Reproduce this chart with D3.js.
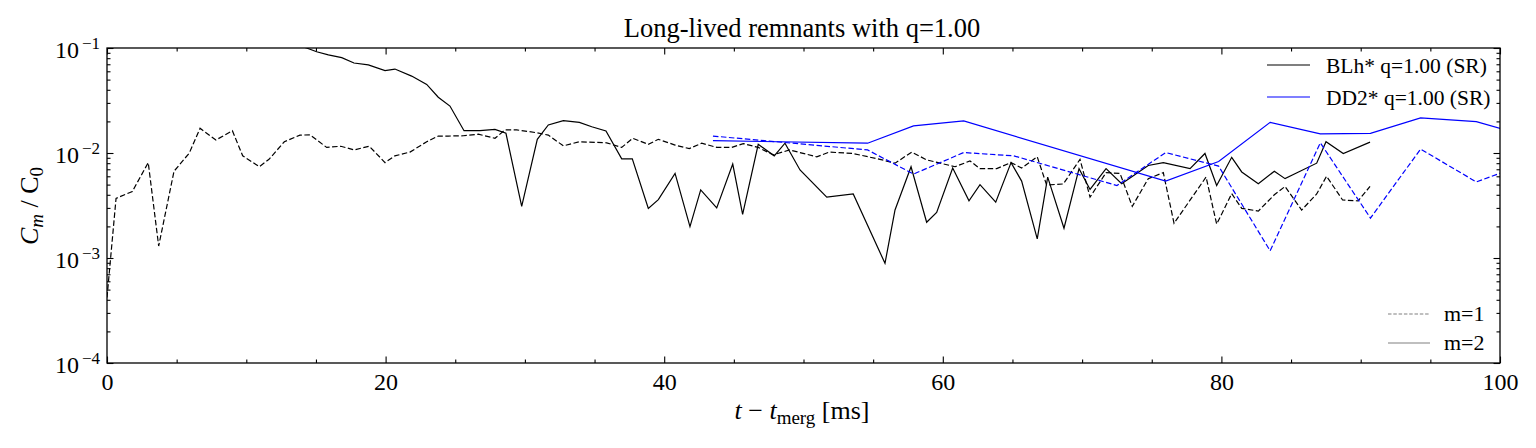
<!DOCTYPE html>
<html>
<head>
<meta charset="utf-8">
<script src="https://cdn.jsdelivr.net/npm/d3@7"></script>
<style>
  body { margin: 0; background: #fff; }
  svg { font-family: "Liberation Serif", "DejaVu Serif", serif; }
</style>
</head>
<body>
<svg id="chart" width="1536" height="448"></svg>
<script>
// BLh* q=1.00, m=1 (dashed black)
const blhM1Time = [0, 0.65, 1.82, 2.96, 3.71, 4.81, 5.91, 6.68, 7.82, 9.0, 9.74, 10.93, 11.63, 12.73, 13.85, 14.57,
    15.77, 16.78, 17.73, 18.83, 19.96, 20.67, 21.75, 22.95, 23.78, 24.5, 25.58, 26.65, 27.85, 28.57, 29.41, 30.85,
    31.68, 32.76, 33.91, 35.87, 36.95, 37.74, 38.86, 39.58, 40.78, 41.8, 42.69, 43.77, 44.84, 45.68, 46.75, 47.83,
    49.0, 50.95, 51.85, 53.53, 55.49, 56.57, 57.77, 58.84, 60.88, 61.95, 62.67, 63.87, 64.9, 65.66, 66.78, 67.45,
    68.65, 69.85, 70.57, 71.72, 72.72, 73.6, 74.75, 75.83, 76.6, 78.9, 79.66, 80.74, 81.46, 82.65, 83.8, 84.57,
    85.76, 86.84, 87.55, 88.7, 89.81, 90.67];
const blhM1 = [4.2e-4, 3.7e-3, 4.3e-3, 8.1e-3, 1.3e-3, 6.7e-3, 1.0e-2, 1.72e-2, 1.33e-2, 1.63e-2, 9.4e-3, 7.4e-3, 8.7e-3, 1.28e-2, 1.48e-2, 1.49e-2,
    1.13e-2, 1.16e-2, 1.07e-2, 1.16e-2, 8.1e-3, 9.4e-3, 1.02e-2, 1.28e-2, 1.45e-2, 1.45e-2, 1.46e-2, 1.51e-2, 1.38e-2, 1.66e-2, 1.66e-2, 1.56e-2,
    1.48e-2, 1.17e-2, 1.28e-2, 1.25e-2, 1.13e-2, 1.38e-2, 1.21e-2, 1.35e-2, 1.19e-2, 1.10e-2, 1.24e-2, 1.13e-2, 1.13e-2, 1.23e-2, 1.13e-2, 9.6e-3,
    1.07e-2, 9.2e-3, 1.02e-2, 9.9e-3, 8.7e-3, 8.0e-3, 1.02e-2, 8.6e-3, 7.4e-3, 8.4e-3, 7.1e-3, 7.1e-3, 8.1e-3, 7.2e-3, 9.2e-3, 4.96e-3,
    5.07e-3, 8.7e-3, 3.8e-3, 6.5e-3, 6.4e-3, 3.1e-3, 5.7e-3, 6.5e-3, 2.14e-3, 5.9e-3, 2.1e-3, 4.1e-3, 2.97e-3, 2.8e-3, 4.0e-3, 4.8e-3,
    2.86e-3, 4.07e-3, 6.0e-3, 3.57e-3, 3.5e-3, 4.8e-3];

// BLh* q=1.00, m=2 (solid black)
const blhM2Time = [12.9, 14.33, 15.05, 15.89, 16.85, 17.73, 18.76, 19.96, 20.67, 21.87, 22.95, 23.78, 24.62, 25.63, 26.78, 27.85,
    28.64, 29.77, 30.89, 31.68, 32.76, 33.91, 34.8, 35.82, 36.95, 37.71, 38.86, 39.58, 40.78, 41.85, 42.62, 43.77,
    44.92, 45.63, 46.75, 47.9, 48.67, 49.75, 51.67, 53.57, 55.85, 56.57, 57.72, 58.84, 59.56, 60.71, 61.88, 62.67,
    63.8, 64.9, 65.66, 66.78, 67.53, 68.7, 69.78, 70.57, 71.72, 72.84, 74.75, 75.83, 77.75, 78.82, 79.66, 80.74,
    81.46, 82.65, 83.8, 84.57, 86.84, 87.51, 88.75, 90.67];
const blhM2 = [0.115, 0.1, 0.092, 0.086, 0.081, 0.072, 0.069, 0.061, 0.063, 0.054, 0.045, 0.034, 0.028, 0.0163, 0.0163, 0.0168,
    0.0154, 3.1e-3, 0.0135, 0.0185, 0.0203, 0.0196, 0.0178, 0.0162, 8.8e-3, 8.8e-3, 2.97e-3, 3.6e-3, 6.4e-3, 1.99e-3, 4.45e-3, 3.0e-3,
    7.85e-3, 2.6e-3, 0.0121, 9.4e-3, 0.0124, 6.9e-3, 3.8e-3, 4.07e-3, 8.9e-4, 2.87e-3, 7.4e-3, 2.19e-3, 2.72e-3, 7.2e-3, 3.5e-3, 5.0e-3,
    3.4e-3, 8.1e-3, 5.4e-3, 1.52e-3, 5.9e-3, 1.92e-3, 7.1e-3, 4.5e-3, 7.1e-3, 5.1e-3, 7.6e-3, 8.1e-3, 7.1e-3, 9.9e-3, 4.9e-3, 9.1e-3,
    6.6e-3, 5.1e-3, 6.7e-3, 5.7e-3, 8.0e-3, 0.0128, 9.9e-3, 0.0127];

// DD2* q=1.00, m=1 (dashed blue)
const dd2M1Time = [43.5, 54.6, 57.9, 61.5, 65.1, 72.5, 76.0, 79.8, 83.5, 87.1, 90.7, 94.3, 98.3, 101.5];
const dd2M1 = [0.0145, 0.0107, 6.3e-3, 0.0101, 9.4e-3, 4.9e-3, 0.0101, 7.5e-3, 1.17e-3, 0.0125, 2.4e-3, 0.0109, 5.3e-3, 7.6e-3];

// DD2* q=1.00, m=2 (solid blue)
const dd2M2Time = [43.5, 54.6, 57.9, 61.5, 76.0, 79.8, 83.5, 87.1, 90.7, 94.3, 98.3, 101.5];
const dd2M2 = [0.0131, 0.0124, 0.0181, 0.0202, 5.4e-3, 8.3e-3, 0.0196, 0.0152, 0.0154, 0.0216, 0.0199, 0.0151];

const xMajor = [0, 20, 40, 60, 80, 100];
const yMajor = [1e-4, 1e-3, 1e-2, 1e-1];
const yExponents = ["−4", "−3", "−2", "−1"];
const legendRuns = ["BLh* q=1.00 (SR)", "DD2* q=1.00 (SR)"];
const legendModes = ["m=1", "m=2"];

const svg = d3.select("#chart");
const margin = { top: 48, right: 36, bottom: 85, left: 107 };
const width = 1536 - margin.left - margin.right;
const height = 448 - margin.top - margin.bottom;

const x = d3.scaleLinear().domain([0, 100]).range([0, width]);
const y = d3.scaleLog().domain([1e-4, 1e-1]).range([height, 0]);

const xMinor = d3.range(0, 101, 5).filter(d => !xMajor.includes(d));
const yMinor = [];
[1e-4, 1e-3, 1e-2].forEach(p => { for (let k = 2; k <= 9; k++) yMinor.push(k * p); });

const g = svg.append("g").attr("transform", `translate(${margin.left},${margin.top})`);

g.append("defs").append("clipPath").attr("id", "plot-clip")
    .append("rect").attr("width", width).attr("height", height);

// ticks on all four sides, pointing inward
function ticks(axis, values, size, pos) {
    const a = g.append("g").attr("transform", pos)
        .call(axis.tickValues(values).tickSize(-size).tickFormat(""));
    a.select(".domain").remove();
    a.selectAll("line").attr("stroke", "#000").attr("stroke-width", 1.1);
    return a;
}
ticks(d3.axisBottom(x), xMinor, 3.5, `translate(0,${height})`);
ticks(d3.axisTop(x), xMinor, 3.5, "translate(0,0)");
ticks(d3.axisTop(x), xMajor, 6.5, "translate(0,0)");
ticks(d3.axisLeft(y), yMinor, 3.5, "translate(0,0)");
ticks(d3.axisRight(y), yMinor, 3.5, `translate(${width},0)`);
ticks(d3.axisRight(y), yMajor, 6.5, `translate(${width},0)`);

const xAxis = g.append("g").attr("transform", `translate(0,${height})`)
    .call(d3.axisBottom(x).tickValues(xMajor).tickSize(-6.5).tickPadding(10).tickFormat(d3.format("d")));
xAxis.select(".domain").remove();
xAxis.selectAll("line").attr("stroke", "#000").attr("stroke-width", 1.1);
xAxis.selectAll("text").attr("font-size", 24).attr("font-family", "Liberation Serif").attr("fill", "#000");

const yAxis = g.append("g")
    .call(d3.axisLeft(y).tickValues(yMajor).tickSize(-6.5).tickFormat(""));
yAxis.select(".domain").remove();
yAxis.selectAll("line").attr("stroke", "#000").attr("stroke-width", 1.1);
yAxis.selectAll(".tick").append("text")
    .attr("x", -28).attr("y", 9).attr("text-anchor", "end")
    .attr("font-size", 24).attr("font-family", "Liberation Serif").attr("fill", "#000")
    .text("10");
yAxis.selectAll(".tick").append("text")
    .attr("x", -7).attr("y", 0).attr("text-anchor", "end")
    .attr("font-size", 17).attr("font-family", "Liberation Serif").attr("fill", "#000")
    .text((d, i) => yExponents[i]);

const line = (tt, vv) => d3.line().x((d, i) => x(tt[i])).y(d => y(d))(vv);

const plot = g.append("g").attr("clip-path", "url(#plot-clip)").attr("fill", "none");
plot.append("path").attr("d", line(blhM1Time, blhM1))
    .attr("stroke", "#000").attr("stroke-width", 1.2).attr("stroke-dasharray", "5.5,2.5");
plot.append("path").attr("d", line(blhM2Time, blhM2))
    .attr("stroke", "#000").attr("stroke-width", 1.2);
plot.append("path").attr("d", line(dd2M1Time, dd2M1))
    .attr("stroke", "#0000ff").attr("stroke-width", 1.2).attr("stroke-dasharray", "5.5,2.5");
plot.append("path").attr("d", line(dd2M2Time, dd2M2))
    .attr("stroke", "#0000ff").attr("stroke-width", 1.2);

g.append("rect").attr("width", width).attr("height", height)
    .attr("fill", "none").attr("stroke", "#000").attr("stroke-width", 1.3);

// title
svg.append("text").attr("x", 802).attr("y", 37)
    .attr("text-anchor", "middle").attr("font-size", 26.5).text("Long-lived remnants with q=1.00");

// x label: t − t_merg [ms]
const xl = svg.append("text").attr("x", 802).attr("y", 419)
    .attr("text-anchor", "middle").attr("font-size", 26);
xl.append("tspan").attr("font-style", "italic").text("t");
xl.append("tspan").text(" − ");
xl.append("tspan").attr("font-style", "italic").text("t");
xl.append("tspan").attr("font-size", 19).attr("dy", 5).text("merg");
xl.append("tspan").attr("dy", -5).text(" [ms]");

// y label: C_m / C_0
const yl = svg.append("text").attr("transform", "translate(38,206) rotate(-90)")
    .attr("text-anchor", "middle").attr("font-size", 26);
yl.append("tspan").attr("font-style", "italic").text("C");
yl.append("tspan").attr("font-style", "italic").attr("font-size", 19).attr("dy", 5).text("m");
yl.append("tspan").attr("dy", -5).text(" / C");
yl.append("tspan").attr("font-size", 19).attr("dy", 5).text("0");

// legends
const runColors = ["#000", "#0000ff"];
legendRuns.forEach((name, i) => {
    const yy = 65 + i * 32;
    svg.append("line").attr("x1", 1267).attr("x2", 1310).attr("y1", yy).attr("y2", yy)
        .attr("stroke", runColors[i]).attr("stroke-width", 1.2);
    svg.append("text").attr("x", 1326).attr("y", yy + 8).attr("font-size", 21.5).text(name);
});
const modeDash = ["3.5,1.8", null];
legendModes.forEach((name, i) => {
    const yy = 314 + i * 29;
    svg.append("line").attr("x1", 1388).attr("x2", 1430).attr("y1", yy).attr("y2", yy)
        .attr("stroke", "#808080").attr("stroke-width", 1.2).attr("stroke-dasharray", modeDash[i]);
    svg.append("text").attr("x", 1444).attr("y", yy + 7).attr("font-size", 22).text(name);
});
</script>
</body>
</html>
